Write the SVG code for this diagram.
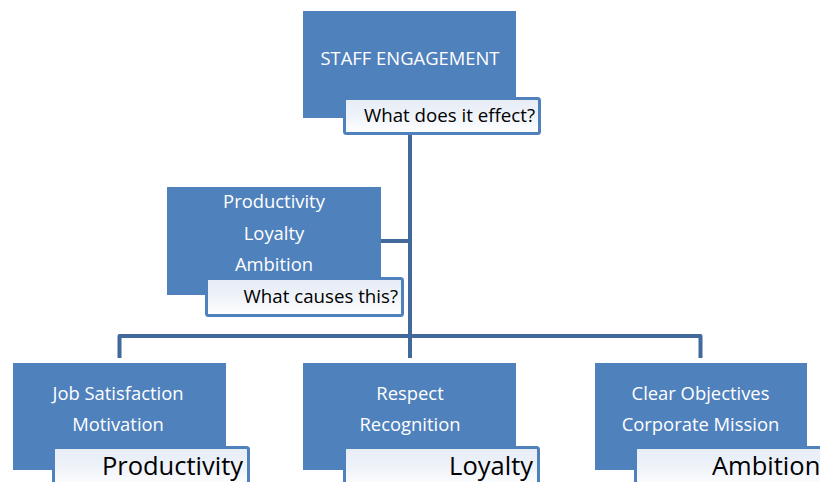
<svg xmlns="http://www.w3.org/2000/svg" width="820" height="482" viewBox="0 0 820 482">
<defs>
<linearGradient id="lg" x1="0" y1="0" x2="0" y2="1">
<stop offset="0" stop-color="#e6ecf6"/>
<stop offset="0.5" stop-color="#eff3f9"/>
<stop offset="1" stop-color="#ffffff"/>
</linearGradient>
<style>
.box{fill:#4f81bd;}
.lab{fill:url(#lg);stroke:#4f81bd;stroke-width:3;}
.conn{fill:none;stroke:#41699c;stroke-width:4;stroke-linejoin:round;}
.wt{fill:#ffffff;font-family:"Open Sans","Noto Sans",sans-serif;font-size:18.4px;text-anchor:middle;}
.bt{fill:#000000;font-family:"Open Sans","Noto Sans",sans-serif;text-anchor:end;}
</style>
</defs>
<rect width="820" height="482" fill="#ffffff"/>
<g id="connectors">
<path class="conn" d="M410,135 V336"/>
<path class="conn" d="M381,241 H410"/>
<path class="conn" d="M119.5,358 V336 H700.5 V358"/>
<path class="conn" d="M410,336 V358"/>
</g>
<g id="staff">
<rect class="box" x="303" y="11" width="213" height="107"/>
<text class="wt" x="410" y="65">STAFF ENGAGEMENT</text>
<rect class="lab" x="344.5" y="98.5" width="195" height="35" rx="2"/>
<text class="bt" x="535" y="122" font-size="18.7">What does it effect?</text>
</g>
<g id="effects">
<rect class="box" x="167" y="187" width="214" height="108"/>
<text class="wt" x="274" y="208">Productivity</text>
<text class="wt" x="274" y="240">Loyalty</text>
<text class="wt" x="274" y="271">Ambition</text>
<rect class="lab" x="206.5" y="278.5" width="196" height="37" rx="2"/>
<text class="bt" x="398" y="303" font-size="18.7">What causes this?</text>
</g>
<g id="job">
<rect class="box" x="13" y="363" width="213" height="107"/>
<text class="wt" x="118" y="400">Job Satisfaction</text>
<text class="wt" x="118" y="431">Motivation</text>
<rect class="lab" x="53.5" y="447.5" width="195" height="40" rx="2"/>
<text class="bt" x="243" y="475" font-size="25.5">Productivity</text>
</g>
<g id="respect">
<rect class="box" x="303" y="363" width="213" height="107"/>
<text class="wt" x="410" y="400">Respect</text>
<text class="wt" x="410" y="431">Recognition</text>
<rect class="lab" x="344.5" y="447.5" width="194" height="40" rx="2"/>
<text class="bt" x="533" y="475" font-size="25.5">Loyalty</text>
</g>
<g id="clear">
<rect class="box" x="595" y="363" width="212" height="107"/>
<text class="wt" x="700.5" y="400">Clear Objectives</text>
<text class="wt" x="700.5" y="431">Corporate Mission</text>
<rect class="lab" x="635.5" y="447.5" width="195" height="40" rx="2"/>
<text class="bt" x="712" y="475" font-size="25.5" style="text-anchor:start">Ambition</text>
</g>
</svg>
